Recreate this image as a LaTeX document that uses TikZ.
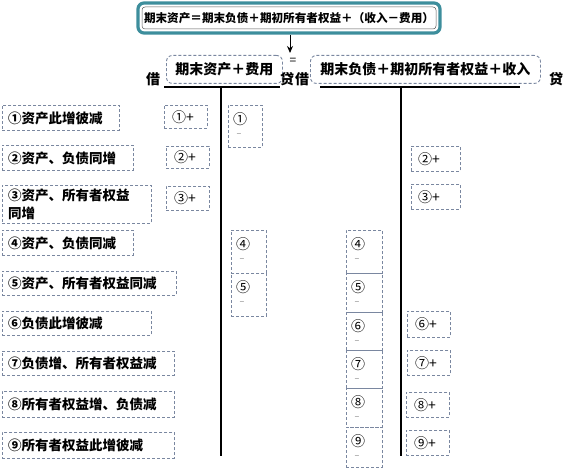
\documentclass[tikz,border=0pt]{standalone}
\usepackage{fontspec}
\setmainfont{Noto Sans CJK SC}
\usetikzlibrary{arrows.meta}
\definecolor{dashc}{HTML}{7A87A0}
\definecolor{tealc}{HTML}{3D8E9C}
\tikzset{
  dbox/.style={draw=dashc, line width=0.9pt, dash pattern=on 3pt off 2pt, anchor=north west, inner sep=0pt},
  lbl/.style={font=\fontsize{13.5}{16}\selectfont\bfseries, inner sep=0pt, anchor=west},
  sml/.style={font=\fontsize{14}{16}\selectfont, inner sep=0pt},
  hd/.style={font=\fontsize{14}{16}\selectfont\bfseries, inner sep=0pt},
  tline/.style={line width=2pt, black},
}
\newcommand{\lbox}[5]{% name, x, y, w, h
  \node[dbox, minimum width=#4, minimum height=#5] (#1) at (#2,#3) {};}
\newcommand{\minusbox}[6]{% name x y w h num
  \lbox{#1}{#2}{#3}{#4}{#5}
  \node[sml] at ([xshift=12pt, yshift=-14pt]#1.north west) {#6};
  \node[font=\fontsize{9}{10}\selectfont, text=gray, inner sep=0pt] at ([xshift=11pt, yshift=-30pt]#1.north west) {–};}
\begin{document}
\begin{tikzpicture}[x=1pt, y=-1pt]
\useasboundingbox (0,0) rectangle (564,470);
% top equation box
\node[draw=tealc, line width=3.2pt, rounded corners=6pt, minimum width=302, minimum height=30, inner sep=0pt] (top) at (289,18) {};
\node[draw=gray!70!black, line width=0.5pt, rounded corners=3pt, minimum width=294, minimum height=22, inner sep=0pt] (topin) at (289,18) {};
\node[font=\fontsize{11.6}{14}\selectfont\bfseries, inner sep=0pt] (toptxt) at (289,18) {期末资产＝期末负债＋期初所有者权益＋（收入－费用）};
\coordinate (arrtip) at (290,53);
\draw[line width=1pt, -{Stealth[length=7pt,width=6pt]}] (top.south -| arrtip) -- (arrtip);
% middle headings
\node[dbox, rounded corners=6pt, minimum width=116, minimum height=28] (lhead) at (166,55) {};
\node[hd] at (lhead.center) {期末资产＋费用};
\node[dbox, rounded corners=6pt, minimum width=230, minimum height=28] (rhead) at (310,55) {};
\node[hd] at (rhead.center) {期末负债＋期初所有者权益＋收入};
\node[font=\fontsize{12}{14}\selectfont, inner sep=0pt] (eq) at (293,61) {=};
\node[hd] (jie1) at (153,79) {借};
\node[hd] (dai1) at (287,79) {贷};
\node[hd] (jie2) at (302,79) {借};
\node[hd] (dai2) at (556,79) {贷};
% T accounts
\coordinate (lTa) at (164,87); \coordinate (lTb) at (280,87);
\coordinate (lTt) at (221,87); \coordinate (lTe) at (221,456);
\coordinate (rTa) at (320,87); \coordinate (rTb) at (520,87);
\coordinate (rTt) at (401,87); \coordinate (rTe) at (401,456);
\draw[tline] (lTa) -- (lTb);
\draw[tline] (lTt) -- (lTe);
\draw[tline] (rTa) -- (rTb);
\draw[tline] (rTt) -- (rTe);
% left descriptive boxes
\lbox{b1}{2}{105}{117}{25} \node[lbl] at ([xshift=6pt]b1.west) {①资产此增彼减};
\lbox{b2}{2}{145}{131}{25} \node[lbl] at ([xshift=6pt]b2.west) {②资产、负债同增};
\lbox{b3}{2}{185}{149}{38} \node[lbl, align=left, font=\fontsize{13.5}{18}\selectfont\bfseries] at ([xshift=6pt]b3.west) {③资产、所有者权益\\同增};
\lbox{b4}{2}{230}{131}{25} \node[lbl] at ([xshift=6pt]b4.west) {④资产、负债同减};
\lbox{b5}{2}{271}{174}{24} \node[lbl] at ([xshift=6pt]b5.west) {⑤资产、所有者权益同减};
\lbox{b6}{2}{311}{149}{24} \node[lbl] at ([xshift=6pt]b6.west) {⑥负债此增彼减};
\lbox{b7}{2}{351}{172}{24} \node[lbl] at ([xshift=6pt]b7.west) {⑦负债增、所有者权益减};
\lbox{b8}{2}{391}{172}{26} \node[lbl] at ([xshift=6pt]b8.west) {⑧所有者权益增、负债减};
\lbox{b9}{2}{432}{172}{26} \node[lbl] at ([xshift=6pt]b9.west) {⑨所有者权益此增彼减};
% plus boxes
\lbox{p1}{164}{105}{43}{23} \node[sml, anchor=west] at ([xshift=8pt]p1.west) {①+};
\lbox{p2}{166}{146}{43}{22} \node[sml, anchor=west] at ([xshift=8pt]p2.west) {②+};
\lbox{p3}{166}{186}{43}{24} \node[sml, anchor=west] at ([xshift=8pt]p3.west) {③+};
\lbox{rp2}{411}{146}{49}{25} \node[sml, anchor=west] at ([xshift=7pt]rp2.west) {②+};
\lbox{rp3}{411}{184}{49}{25} \node[sml, anchor=west] at ([xshift=7pt]rp3.west) {③+};
\lbox{rp6}{407}{311}{43}{26} \node[sml, anchor=west] at ([xshift=8pt]rp6.west) {⑥+};
\lbox{rp7}{407}{350}{43}{25} \node[sml, anchor=west] at ([xshift=8pt]rp7.west) {⑦+};
\lbox{rp8}{406}{392}{43}{25} \node[sml, anchor=west] at ([xshift=8pt]rp8.west) {⑧+};
\lbox{rp9}{406}{430}{43}{25} \node[sml, anchor=west] at ([xshift=8pt]rp9.west) {⑨+};
% minus boxes
\minusbox{m1}{228}{105}{34}{42}{①}
\minusbox{lm4}{231}{230}{35}{43}{④}
\minusbox{lm5}{231}{273}{35}{43}{⑤}
\minusbox{rm4}{346}{230}{36}{43}{④}
\minusbox{rm5}{346}{273}{36}{39}{⑤}
\minusbox{rm6}{346}{312}{36}{38}{⑥}
\minusbox{rm7}{346}{350}{36}{38}{⑦}
\minusbox{rm8}{346}{388}{36}{39}{⑧}
\minusbox{rm9}{346}{427}{36}{40}{⑨}
\end{tikzpicture}
\end{document}
